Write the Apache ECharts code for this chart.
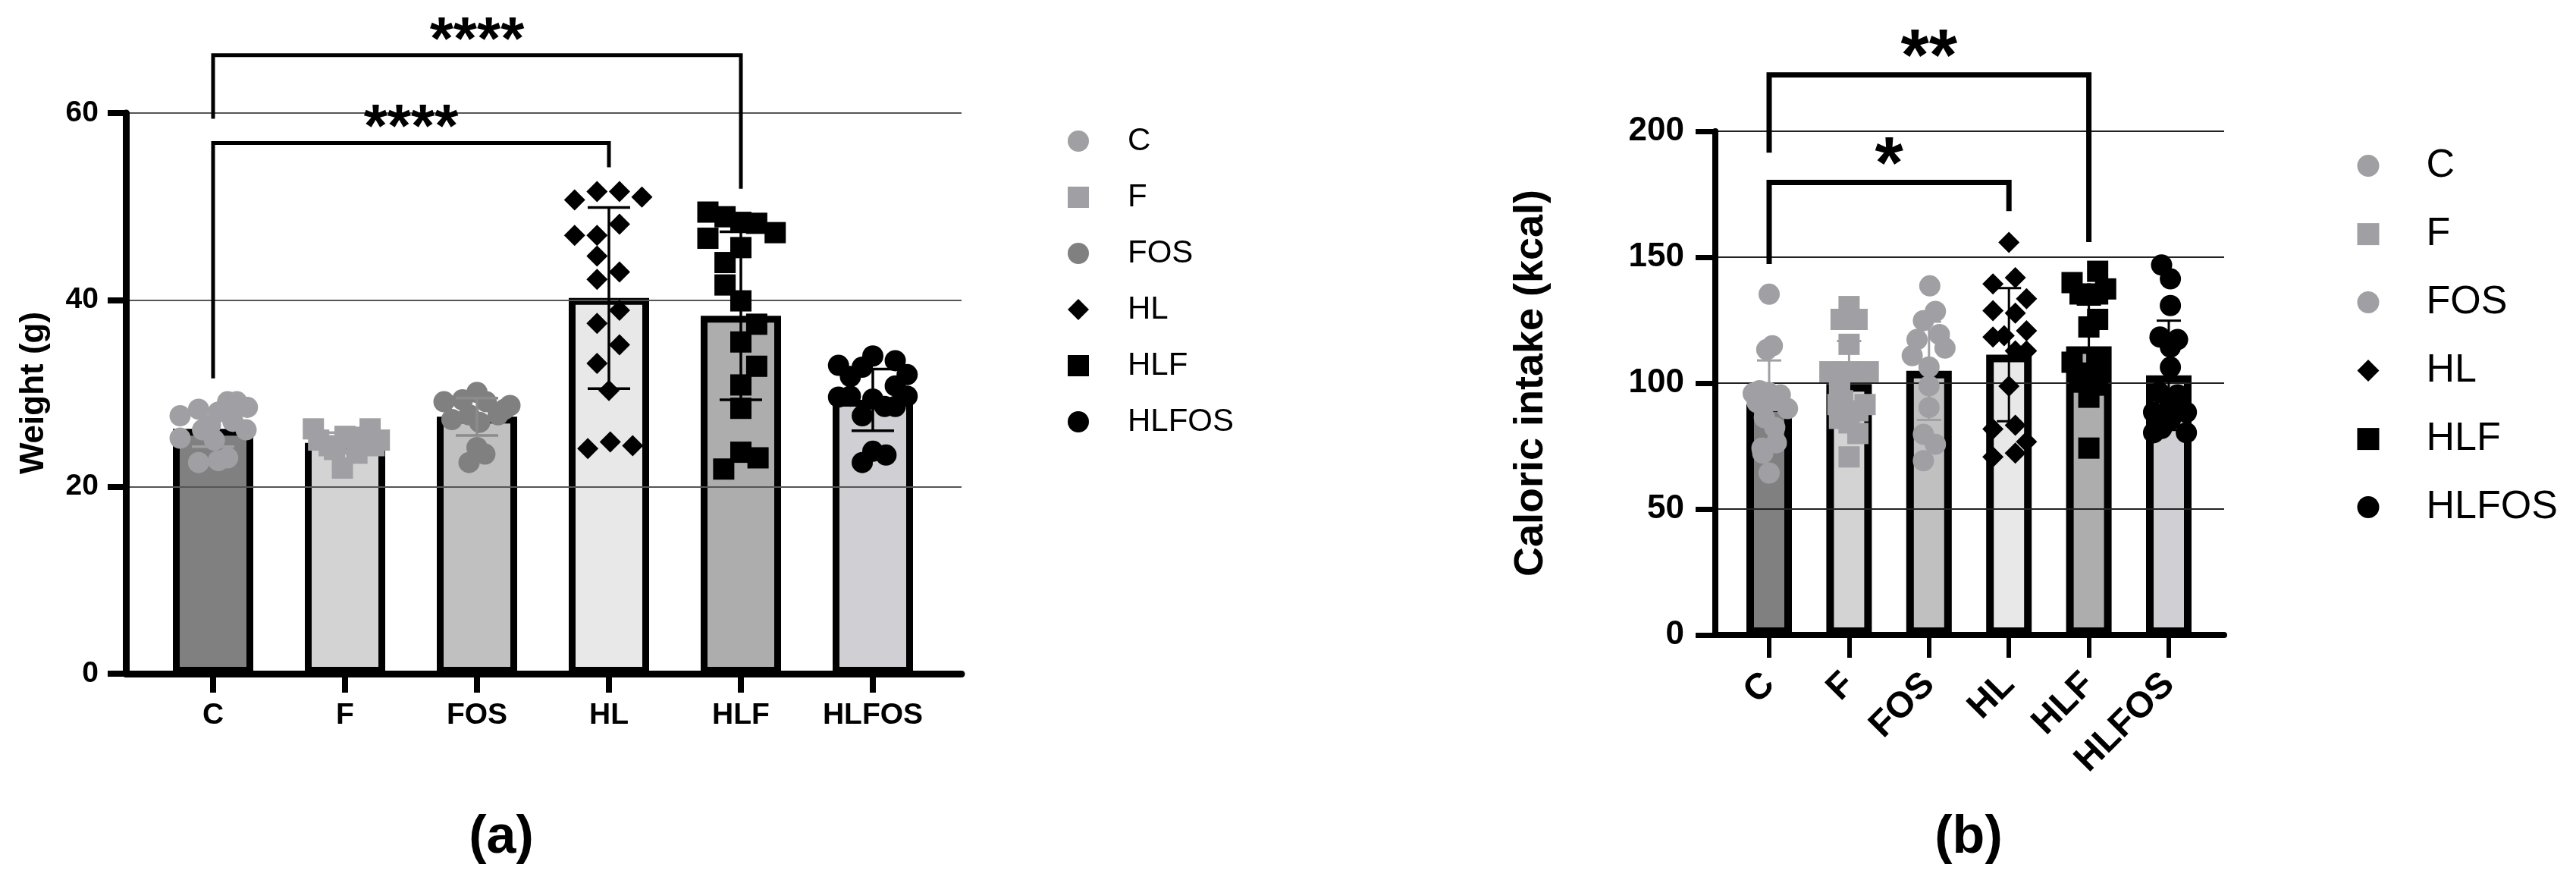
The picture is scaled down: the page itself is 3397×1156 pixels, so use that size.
<!DOCTYPE html>
<html><head><meta charset="utf-8">
<script src="https://cdn.jsdelivr.net/npm/echarts@6/dist/echarts.min.js"></script>
<style>html,body{margin:0;padding:0;background:#fff}#c{width:3397px;height:1156px}</style>
</head><body><div id="c"></div>
<script>
// ---------- DATA ----------
const categories = ['C', 'F', 'FOS', 'HL', 'HLF', 'HLFOS'];

// Panel (a): Weight (g) — axis 0..60 step 20
const weightAxis = [0, 60, 20];
const weightMean = [26.2, 24.7, 27.5, 40.2, 38.3, 29.3];
const weightSD   = [1.9, 1.1, 2.0, 9.7, 9.0, 3.3];
// individual animals: [horizontal jitter (category units), value]
const weightC = [[-0.25,27.6],[-0.11,28.3],[0.11,29.1],[0.18,29.1],[0.26,28.5],[0.04,28.0],[0.15,27.0],[0.25,26.1],[-0.25,25.2],[-0.08,26.1],[0.01,25.0],[-0.11,22.6],[0.04,22.8],[0.11,23.1],[-0.02,26.6]];
const weightF = [[-0.24,26.2],[0.19,26.2],[0.0,25.4],[0.26,25.0],[-0.2,25.0],[0.07,25.3],[-0.12,24.4],[0.22,24.4],[-0.02,22.0],[0.09,23.6],[-0.08,24.0]];
const weightFOS = [[0,30.1],[-0.25,29.1],[0.25,28.7],[-0.11,29.3],[0.07,29.1],[-0.06,27.7],[-0.19,27.2],[0.16,27.7],[0.02,26.9],[0,24.2],[0.06,23.5],[-0.06,22.6],[0.21,28.3]];
const weightHL = [[-0.26,50.7],[-0.09,51.6],[0.08,51.6],[0.25,51.0],[0.08,48.1],[-0.26,46.9],[-0.09,46.9],[-0.09,44.7],[0.08,43.0],[-0.09,42.2],[0.08,38.9],[-0.09,37.5],[0.08,35.2],[-0.09,33.2],[0,30.3],[-0.16,24.1],[0.01,24.8],[0.18,24.4]];
const weightHLF = [[-0.25,49.4],[-0.12,48.9],[0,48.3],[0.12,48.2],[0.26,47.2],[-0.25,46.6],[0,45.6],[-0.12,44.0],[-0.12,41.6],[0,39.9],[0.12,37.4],[0,35.5],[0.12,32.9],[0,30.9],[0,28.4],[0,23.7],[0.13,23.1],[-0.13,21.9]];
const weightHLFOS = [[-0.26,33.0],[-0.17,31.8],[-0.08,32.8],[0,34.0],[0.17,33.5],[0.26,32.0],[0.17,30.8],[-0.26,29.6],[-0.17,29.7],[0,29.4],[0.26,29.7],[-0.08,27.6],[0.09,28.6],[0.17,28.6],[-0.08,22.6],[0,23.8],[0.1,23.4]];
// significance brackets: [fromIdx, toIdx, barY, leftLegEndY, rightLegEndY]
const weightBrackets = [[0, 4, 66.2, 59.4, 51.9], [0, 3, 56.8, 31.6, 54.2]];
const weightStars = ['****', '****'];

// Panel (b): Caloric intake (kcal) — axis 0..200 step 50
const kcalAxis = [0, 200, 50];
const kcalMean = [91.6, 99.6, 104.9, 111.3, 114.6, 103.1];
const kcalSD   = [17.4, 17.1, 19.5, 26.4, 16.6, 21.7];
const kcalC = [[0,135.3],[0.04,114.8],[-0.03,113.3],[-0.2,95.9],[-0.01,96.3],[0.14,95.3],[0.23,89.9],[-0.15,92.3],[-0.06,86.3],[0.07,82.4],[-0.09,74.2],[0.09,76.3],[-0.08,72.2],[0,64.3],[0.07,93.0],[-0.12,97.0]];
const kcalF = [[0,130.4],[-0.1,125.3],[0.1,125.3],[0,115.4],[-0.24,104.5],[0,104.5],[0.24,104.5],[-0.12,99.0],[-0.08,93.0],[-0.14,91.5],[0.2,91.5],[0.11,89.0],[0,84.2],[0,70.7],[-0.12,86.0],[0.11,80.0]];
const kcalFOS = [[0.01,138.6],[0.08,128.5],[-0.07,124.8],[0.13,119.3],[-0.15,117.3],[0.2,113.9],[-0.21,110.9],[0,106.4],[0,98.9],[0,90.3],[-0.07,79.7],[0.08,75.7],[-0.07,69.2]];
const kcalHL = [[0,155.9],[-0.2,139.4],[0.08,141.9],[0.22,133.5],[-0.2,128.8],[0.08,127.8],[0.22,120.8],[-0.2,118.3],[-0.06,118.8],[0.08,112.8],[0.22,112.8],[0,98.8],[-0.2,81.8],[0.08,83.3],[0.22,76.7],[-0.2,70.7],[0.08,72.2]];
const kcalHLF = [[0.11,144.4],[-0.21,139.9],[0.21,137.4],[-0.11,135.4],[0.11,135.4],[0.11,125.3],[0,122.3],[-0.21,108.3],[0.11,107.3],[-0.11,100.4],[0.11,99.2],[0,94.4],[0,74.2],[-0.1,104.0],[0.1,110.0],[-0.05,102.0]];
const kcalHLFOS = [[-0.09,146.9],[0.02,141.4],[0.02,130.8],[-0.11,118.3],[0.11,117.3],[0.02,114.3],[0.02,106.3],[-0.12,96.3],[0.11,95.3],[-0.19,88.4],[0.22,88.4],[-0.19,80.3],[0.22,80.3],[0.02,85.4],[0,90.0],[-0.09,82.0]];
const kcalBrackets = [[0, 4, 222.4, 191.5, 156.0], [0, 3, 179.7, 147.3, 168.3]];
const kcalStars = ['**', '*'];

// ---------- STYLES ----------
const FF = '"Liberation Sans", Arial, Helvetica, sans-serif';
const symbols = ['circle', 'rect', 'circle', 'diamond', 'rect', 'circle'];
const barFill = ['#808080', '#d3d3d3', '#c0c0c0', '#e8e8e8', '#adadad', '#d0d0d4'];
const pointColA = ['#a0a0a4', '#a0a0a4', '#808080', '#000000', '#000000', '#000000'];
const pointColB = ['#a0a0a4', '#a0a0a4', '#a0a0a4', '#000000', '#000000', '#000000'];
const errColA = ['#a0a0a4', '#a0a0a4', '#8c8c8c', '#000000', '#000000', '#000000'];
const errColB = ['#a0a0a4', '#a0a0a4', '#a0a0a4', '#000000', '#000000', '#000000'];

function scatterSeries(groups, names, colors, xi, yi, size) {
  return groups.map((pts, g) => ({
    name: names[g], type: 'scatter', xAxisIndex: xi, yAxisIndex: yi,
    symbol: symbols[g], symbolSize: size, z: 4, silent: true,
    itemStyle: { color: colors[g], opacity: 1 },
    data: pts.map(p => [g + p[0], p[1]])
  }));
}
function barSeries(means, xi, yi, bw, border) {
  return {
    type: 'bar', xAxisIndex: xi, yAxisIndex: yi, barWidth: bw, z: 2, silent: true,
    data: means.map((v, i) => ({ value: v, itemStyle: { color: barFill[i] } })),
    itemStyle: { borderColor: '#000', borderWidth: border }
  };
}
function errorSeries(means, sds, colors, xi, yi, capHalf, lw) {
  return {
    type: 'custom', xAxisIndex: xi, yAxisIndex: yi, z: 5, silent: true,
    data: means.map((m, i) => [i, m, sds[i]]), encode: { x: 0, y: 1 },
    renderItem(params, api) {
      const i = api.value(0), m = api.value(1), s = api.value(2);
      const t = api.coord([i, m + s]), b = api.coord([i, m - s]);
      const st = { stroke: colors[params.dataIndex], lineWidth: lw };
      return { type: 'group', children: [
        { type: 'line', shape: { x1: t[0], y1: t[1], x2: b[0], y2: b[1] }, style: st },
        { type: 'line', shape: { x1: t[0] - capHalf, y1: t[1], x2: t[0] + capHalf, y2: t[1] }, style: st },
        { type: 'line', shape: { x1: b[0] - capHalf, y1: b[1], x2: b[0] + capHalf, y2: b[1] }, style: st }
      ]};
    }
  };
}
function bracketSeries(brs, labels, xi, yi, lw, fs, gap) {
  return {
    type: 'custom', xAxisIndex: xi, yAxisIndex: yi, z: 6, silent: true, clip: false,
    data: brs, encode: { x: 0, y: 2 },
    renderItem(params, api) {
      const a = api.value(0), b = api.value(1);
      const t0 = api.coord([a, api.value(2)]), t1 = api.coord([b, api.value(2)]);
      const l = api.coord([a, api.value(3)]), r = api.coord([b, api.value(4)]);
      return { type: 'group', children: [
        { type: 'polyline', shape: { points: [l, t0, t1, r] },
          style: { stroke: '#000', lineWidth: lw, fill: 'none', lineJoin: 'miter' } },
        { type: 'text', x: (t0[0] + t1[0]) / 2, y: t0[1] - gap,
          style: { text: labels[params.dataIndex], fill: '#000', fontSize: fs, fontWeight: 'bold',
                   fontFamily: FF, align: 'center', verticalAlign: 'middle' } }
      ]};
    }
  };
}

const namesB = categories.map(c => c + '_b');

const option = {
  animation: false,
  backgroundColor: '#fff',
  grid: [
    { left: 166, top: 149, width: 1102, height: 739, outerBoundsMode: 'none' },
    { left: 194, top: 149, width: 1044, height: 739, outerBoundsMode: 'none' },
    { left: 2262, top: 173, width: 671, height: 664, outerBoundsMode: 'none' },
    { left: 2280.3, top: 173, width: 632.4, height: 664, outerBoundsMode: 'none' }
  ],
  xAxis: [
    { gridIndex: 0, type: 'category', data: categories, z: 3,
      axisLine: { show: true, lineStyle: { color: '#000', width: 9 } },
      axisTick: { show: false }, axisLabel: { show: false }, splitLine: { show: false } },
    { gridIndex: 1, type: 'category', data: categories,
      axisLine: { show: false },
      axisTick: { show: true, alignWithLabel: true, length: 25, lineStyle: { color: '#000', width: 8 } },
      axisLabel: { interval: 0, color: '#000', fontSize: 39, fontWeight: 'bold', fontFamily: FF, margin: 36 } },
    { gridIndex: 1, type: 'value', min: -0.5, max: 5.5, show: false },
    { gridIndex: 2, type: 'category', data: categories, z: 3,
      axisLine: { show: true, lineStyle: { color: '#000', width: 8 } },
      axisTick: { show: false }, axisLabel: { show: false }, splitLine: { show: false } },
    { gridIndex: 3, type: 'category', data: categories,
      axisLine: { show: false },
      axisTick: { show: true, alignWithLabel: true, length: 30, lineStyle: { color: '#000', width: 6 } },
      axisLabel: { interval: 0, rotate: 45, color: '#000', fontSize: 48, fontWeight: 'bold', fontFamily: FF, margin: 58 } },
    { gridIndex: 3, type: 'value', min: -0.5, max: 5.5, show: false }
  ],
  yAxis: [
    { gridIndex: 0, type: 'value', min: weightAxis[0], max: weightAxis[1], interval: weightAxis[2], z: 3,
      axisLine: { show: true, lineStyle: { color: '#000', width: 9 } },
      axisTick: { show: true, length: 24, lineStyle: { color: '#000', width: 8 } },
      axisLabel: { color: '#000', fontSize: 39, fontWeight: 'bold', fontFamily: FF, margin: 36 },
      splitLine: { show: true, lineStyle: { color: '#555', width: 2 } } },
    { gridIndex: 1, type: 'value', min: weightAxis[0], max: weightAxis[1], show: false },
    { gridIndex: 2, type: 'value', min: kcalAxis[0], max: kcalAxis[1], interval: kcalAxis[2], z: 3,
      axisLine: { show: true, lineStyle: { color: '#000', width: 8 } },
      axisTick: { show: true, length: 26, lineStyle: { color: '#000', width: 7 } },
      axisLabel: { color: '#000', fontSize: 44, fontWeight: 'bold', fontFamily: FF, margin: 41 },
      splitLine: { show: true, lineStyle: { color: '#222', width: 2 } } },
    { gridIndex: 3, type: 'value', min: kcalAxis[0], max: kcalAxis[1], show: false }
  ],
  legend: [
    { orient: 'vertical', left: 1408, top: 165, padding: 0, itemWidth: 28, itemHeight: 28, itemGap: 32,
      selectedMode: false,
      data: categories.map((c, i) => ({ name: c, icon: symbols[i] })),
      textStyle: { color: '#000', fontSize: 42, fontFamily: FF, padding: [0, 0, 0, 46] } },
    { orient: 'vertical', left: 3108.5, top: 192.6, padding: 0, itemWidth: 29, itemHeight: 29, itemGap: 38,
      selectedMode: false,
      data: namesB.map((c, i) => ({ name: c, icon: symbols[i] })),
      formatter: n => n.replace('_b', ''),
      textStyle: { color: '#000', fontSize: 52, fontFamily: FF, padding: [0, 0, 0, 57] } }
  ],
  graphic: [
    { type: 'text', x: 45, y: 518, rotation: Math.PI / 2,
      style: { text: 'Weight (g)', fill: '#000', fontSize: 44, fontWeight: 'bold', fontFamily: FF, align: 'center', verticalAlign: 'middle' } },
    { type: 'text', x: 2019, y: 505, rotation: Math.PI / 2,
      style: { text: 'Caloric intake (kcal)', fill: '#000', fontSize: 54, fontWeight: 'bold', fontFamily: FF, align: 'center', verticalAlign: 'middle' } },
    { type: 'text', x: 661, y: 1105,
      style: { text: '(a)', fill: '#000', fontSize: 70, fontWeight: 'bold', fontFamily: FF, align: 'center', verticalAlign: 'middle' } },
    { type: 'text', x: 2596, y: 1105,
      style: { text: '(b)', fill: '#000', fontSize: 70, fontWeight: 'bold', fontFamily: FF, align: 'center', verticalAlign: 'middle' } }
  ],
  series: [
    barSeries(weightMean, 1, 1, 106, 9),
    ...scatterSeries([weightC, weightF, weightFOS, weightHL, weightHLF, weightHLFOS], categories, pointColA, 2, 1, 28),
    errorSeries(weightMean, weightSD, errColA, 1, 1, 28, 3.5),
    bracketSeries(weightBrackets, weightStars, 1, 1, 5, 80, 17),
    barSeries(kcalMean, 4, 3, 60, 10),
    ...scatterSeries([kcalC, kcalF, kcalFOS, kcalHL, kcalHLF, kcalHLFOS], namesB, pointColB, 5, 3, 28),
    errorSeries(kcalMean, kcalSD, errColB, 4, 3, 16, 3),
    bracketSeries(kcalBrackets, kcalStars, 4, 3, 7, 96, 20)
  ]
};
const chart = echarts.init(document.getElementById('c'), null, { renderer: 'canvas', width: 3397, height: 1156 });
chart.setOption(option);
</script>
</body></html>
